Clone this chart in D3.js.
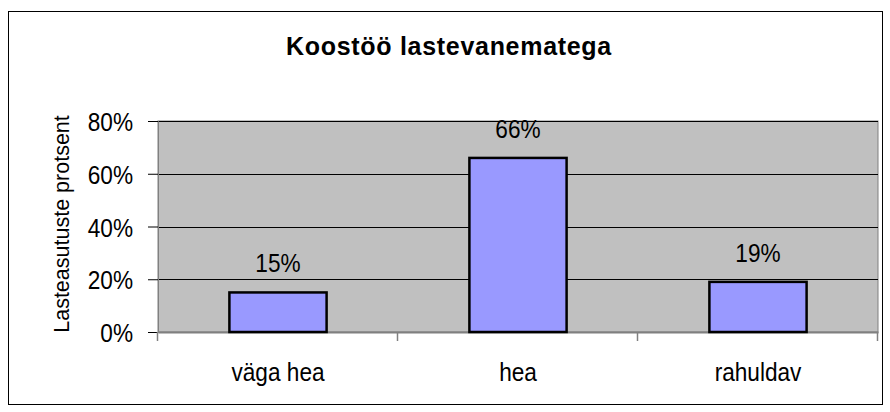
<!DOCTYPE html>
<html>
<head>
<meta charset="utf-8">
<script src="https://cdn.jsdelivr.net/npm/d3@7"></script>
<style>
  body { margin: 0; background: #fff; }
  text { font-family: "Liberation Sans", Arial, sans-serif; fill: #000; }
</style>
</head>
<body>
<div id="chart"></div>
<script>
// data
var categories = ["väga hea", "hea", "rahuldav"]
var values = [0.15, 0.66, 0.19]
var yTicks = [0, 0.2, 0.4, 0.6, 0.8]
var title = "Koostöö lastevanematega"
var yTitle = "Lasteasutuste protsent"

var width = 890,
    height = 412
var plot = {left: 158, right: 878, top: 121, bottom: 332}
var sx = 0.87 // text in the picture is a bit narrow

var svg = d3.select("#chart")
  .append("svg")
    .attr("width", width)
    .attr("height", height)

// outer frame
svg.append("rect")
  .attr("x", 8.5).attr("y", 11.5)
  .attr("width", 874).attr("height", 393)
  .attr("fill", "none")
  .attr("stroke", "#000")
  .attr("stroke-width", 1)

var x = d3.scaleBand()
  .domain(categories)
  .range([plot.left, plot.right])

var y = d3.scaleLinear()
  .domain([0, 0.8])
  .range([plot.bottom, plot.top])

// gray plot area
svg.append("rect")
  .attr("x", plot.left).attr("y", plot.top)
  .attr("width", plot.right - plot.left)
  .attr("height", plot.bottom - plot.top)
  .attr("fill", "#c0c0c0")
  .attr("stroke", "#808080")
  .attr("stroke-width", 1)

// gridlines
svg.selectAll(".grid")
  .data(yTicks.filter(function(d) { return d > 0 }))
  .enter()
  .append("line")
    .attr("x1", plot.left).attr("x2", plot.right)
    .attr("y1", function(d) { return Math.round(y(d)) + 0.5 })
    .attr("y2", function(d) { return Math.round(y(d)) + 0.5 })
    .attr("stroke", "#000")
    .attr("stroke-width", 1)

// y axis
var yAxis = svg.append("g")
  .attr("transform", "translate(" + plot.left + ",0)")
  .call(d3.axisLeft(y).tickValues(yTicks).tickFormat(d3.format(".0%")).tickSize(10).tickPadding(0))
yAxis.select(".domain").attr("stroke", "#808080")
yAxis.selectAll(".tick line").attr("stroke", "#000")
yAxis.selectAll(".tick text")
  .attr("x", -25 / sx)
  .attr("dy", "0.37em")
  .attr("transform", "scale(" + sx + ",1)")
  .style("font-size", "26px")
  .style("font-family", "'Liberation Sans', Arial, sans-serif")

// x axis: category labels at band centers
var xAxis = svg.append("g")
  .attr("transform", "translate(0," + plot.bottom + ")")
  .call(d3.axisBottom(x).tickSize(0).tickPadding(0))
xAxis.select(".domain").attr("stroke", "#808080").attr("stroke-width", 2)
xAxis.selectAll(".tick text")
  .attr("y", 49)
  .attr("dy", 0)
  .attr("transform", "scale(" + sx + ",1)")
  .style("font-size", "26px")
  .style("font-family", "'Liberation Sans', Arial, sans-serif")

// tick marks on the category boundaries
var bounds = [x(categories[0])].concat(categories.map(function(d) { return x(d) + x.bandwidth() }))
svg.selectAll(".xtick")
  .data(bounds)
  .enter()
  .append("line")
    .attr("x1", function(d) { return d - 0.5 })
    .attr("x2", function(d) { return d - 0.5 })
    .attr("y1", plot.bottom)
    .attr("y2", plot.bottom + 9)
    .attr("stroke", "#808080")
    .attr("stroke-width", 1.5)

// bars
var barW = x.bandwidth() * 0.405
svg.selectAll(".bar")
  .data(values)
  .enter()
  .append("rect")
    .attr("x", function(d, i) { return x(categories[i]) + (x.bandwidth() - barW) / 2 })
    .attr("y", function(d) { return y(d) })
    .attr("width", barW)
    .attr("height", function(d) { return plot.bottom - y(d) })
    .attr("fill", "#9999ff")
    .attr("stroke", "#000")
    .attr("stroke-width", 2.5)

// value labels
svg.selectAll(".val")
  .data(values)
  .enter()
  .append("text")
    .attr("transform", function(d, i) {
      return "translate(" + (x(categories[i]) + x.bandwidth() / 2) + "," + (y(d) - 20) + ") scale(" + sx + ",1)"
    })
    .style("text-anchor", "middle")
    .style("font-size", "26px")
    .text(function(d) { return Math.round(d * 100) + "%" })

// title
svg.append("text")
  .attr("x", 449)
  .attr("y", 55)
  .style("text-anchor", "middle")
  .style("font-size", "25px")
  .style("font-weight", "bold")
  .style("letter-spacing", "0.7px")
  .text(title)

// y axis title
svg.append("text")
  .attr("transform", "translate(69,224) rotate(-90)")
  .style("text-anchor", "middle")
  .style("font-size", "21.5px")
  .text(yTitle)
</script>
</body>
</html>
